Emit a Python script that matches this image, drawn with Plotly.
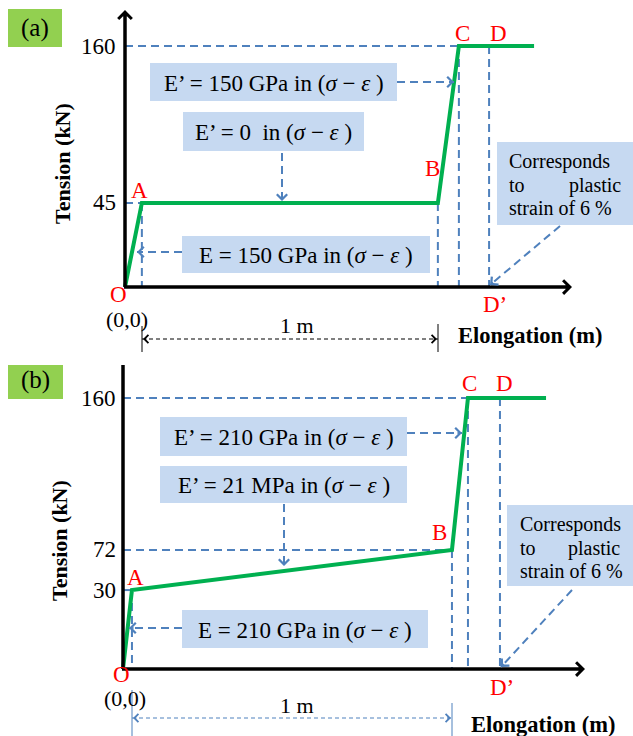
import numpy as np
import plotly.graph_objects as go

W, H = 633, 736

# ---------------- data ----------------
# schematic elongation positions of the characteristic points O, A, B, C, D
point_names = ["O", "A", "B", "C", "D"]
elong_a = [0.0, 0.057, 1.057, 1.128, 1.23]
tension_a = [0, 45, 45, 160, 160]
curve_end_a = 1.382
ticks_a = [45, 160]

elong_b = [0.0, 0.028, 1.028, 1.078, 1.178]
tension_b = [0, 30, 72, 160, 160]
curve_end_b = 1.322
ticks_b = [30, 72, 160]

box_texts_a = ["E’ = 150 GPa in (<i>σ</i> − <i>ε</i> )",
               "E’ = 0  in (<i>σ</i> − <i>ε</i> )",
               "E = 150 GPa in (<i>σ</i> − <i>ε</i> )"]
box_texts_b = ["E’ = 210 GPa in (<i>σ</i> − <i>ε</i> )",
               "E’ = 21 MPa in (<i>σ</i> − <i>ε</i> )",
               "E = 210 GPa in (<i>σ</i> − <i>ε</i> )"]

# ---------------- styling / geometry ----------------
GREEN = "#00B050"
BLUE = "#4F81BD"
BOXFILL = "#C6D9F1"
LABELFILL = "#92D050"
FONT = "Liberation Serif"
SPLIT = 365  # pixel row between the panels
FS = 23      # main text size

PANELS = {
    "a": dict(xref="x", yref="y", ox=125, oy=287, sx=296, sy=241 / 160, top=0, bottom=SPLIT,
              knots_t=[0, 45, 160], knots_y=[0, 55.8, 160]),
    "b": dict(xref="x2", yref="y2", ox=123, oy=669, sx=320, sy=271 / 160, top=SPLIT, bottom=H,
              knots_t=[0, 30, 72, 160], knots_y=[0, 46.6, 70.3, 160]),
}


def P(p, px, py):
    g = PANELS[p]
    return (px - g["ox"]) / g["sx"], (g["oy"] - py) / g["sy"]


def warp(p, t):
    g = PANELS[p]
    return np.interp(t, g["knots_t"], g["knots_y"])


shapes, anns = [], []


def line(p, x0, y0, x1, y1, color, width, dash=None, layer="above"):
    g = PANELS[p]
    ln = dict(color=color, width=width)
    if dash:
        ln["dash"] = dash
    shapes.append(dict(type="line", xref=g["xref"], yref=g["yref"], x0=x0, y0=y0, x1=x1, y1=y1,
                       line=ln, layer=layer))


def pline(p, px0, py0, px1, py1, color, width, dash=None, layer="above"):
    x0, y0 = P(p, px0, py0)
    x1, y1 = P(p, px1, py1)
    line(p, x0, y0, x1, y1, color, width, dash, layer)


def rect(p, px0, py0, px1, py1, fill):
    g = PANELS[p]
    x0, y0 = P(p, px0, py0)
    x1, y1 = P(p, px1, py1)
    shapes.append(dict(type="rect", xref=g["xref"], yref=g["yref"], x0=x0, y0=y0, x1=x1, y1=y1,
                       fillcolor=fill, line=dict(width=0), layer="below"))


def text(p, px, py, s, size=FS, color="black", xanchor="center", angle=0):
    g = PANELS[p]
    x, y = P(p, px, py)
    anns.append(dict(x=x, y=y, xref=g["xref"], yref=g["yref"], text=s, showarrow=False,
                     xanchor=xanchor, yanchor="middle", textangle=angle,
                     font=dict(family=FONT, size=size, color=color)))


def head(p, hx, hy, dx, dy, color, width, size, L=6):
    g = PANELS[p]
    x, y = P(p, hx, hy)
    n = (dx ** 2 + dy ** 2) ** 0.5
    dx, dy = dx / n, dy / n
    anns.append(dict(x=x, y=y, xref=g["xref"], yref=g["yref"], text="", showarrow=True,
                     ax=-dx * L, ay=-dy * L, arrowhead=4, arrowcolor=color, arrowwidth=width,
                     arrowsize=size, standoff=0))


def dashed_arrow(p, tx, ty, hx, hy):
    pline(p, tx, ty, hx, hy, BLUE, 2, "8px,5px")
    head(p, hx, hy, hx - tx, hy - ty, BLUE, 2, 1.0)


fig = go.Figure()

for p, el, te, end, ticks in [("a", elong_a, tension_a, curve_end_a, ticks_a),
                              ("b", elong_b, tension_b, curve_end_b, ticks_b)]:
    g = PANELS[p]
    xs = el[:4] + [end]
    ys = list(warp(p, te[:4] + [te[3]]))
    fig.add_trace(go.Scatter(x=xs, y=ys, mode="lines", line=dict(color=GREEN, width=4),
                             hoverinfo="skip", showlegend=False,
                             xaxis=g["xref"], yaxis=g["yref"]))
    yd = warp(p, te)
    # horizontal guides at each level up to the right-most point of that level
    for lvl in sorted(set(te[1:])):
        xr = max(el[i] for i in range(1, 4) if te[i] == lvl)
        line(p, 0, warp(p, lvl), xr, warp(p, lvl), BLUE, 2, "8px,5px", "below")
    # vertical guides from A, B, C, D
    for i in range(1, 5):
        line(p, el[i], yd[i], el[i], 0, BLUE, 2, "8px,5px", "below")
    # tick labels
    for t in ticks:
        x, _ = P(p, 118, 0)
        anns.append(dict(x=x, y=warp(p, t), xref=g["xref"], yref=g["yref"], text=str(t),
                         showarrow=False, xanchor="right", yanchor="middle",
                         font=dict(family=FONT, size=FS, color="black")))

# ---- axes (drawn arrows) ----
for p, tipx, tipy in [("a", 572, 10), ("b", 585, 358)]:
    g = PANELS[p]
    pline(p, g["ox"], g["oy"], g["ox"], tipy + 2, "black", 3.5)
    pline(p, g["ox"] - 1, g["oy"], tipx - 2, g["oy"], "black", 3.5)
    head(p, g["ox"], tipy, 0, -1, "black", 3.5, 0.75, L=8)
    head(p, tipx, g["oy"], 1, 0, "black", 3.5, 0.75, L=8)

# ---- panel (a) decorations ----
rect("a", 8, 9, 62, 47, LABELFILL)
text("a", 35, 28, "(a)", 25)
text("a", 62, 164, "<b>Tension (kN)</b>", 22, angle=-90)
text("a", 530, 335, "<b>Elongation (m)</b>", 22.5)
text("a", 127, 319, "(0,0)", 22)
text("a", 297, 325, "1 m", 22)
for nm, (px, py) in zip(["O", "A", "B", "C", "D", "D’"],
                        [(118, 294), (139, 190), (432, 168), (462, 33), (498, 33), (495, 304)]):
    text("a", px, py, nm, FS, "red")

boxes_a = [(150, 63, 397, 101), (183, 112, 364, 151), (182, 236, 430, 273)]
for (x0, y0, x1, y1), s in zip(boxes_a, box_texts_a):
    rect("a", x0, y0, x1, y1, BOXFILL)
    text("a", (x0 + x1) / 2, (y0 + y1) / 2 + 1, s, FS)
rect("a", 497, 142, 633, 225, BOXFILL)
text("a", 507, 161, "Corresponds", 20, xanchor="left")
text("a", 507, 185, "to", 20, xanchor="left")
text("a", 623, 185, "plastic", 20, xanchor="right")
text("a", 507, 208, "strain of 6 %", 20, xanchor="left")

dashed_arrow("a", 397, 82, 454, 82)
dashed_arrow("a", 282, 153, 282, 201)
dashed_arrow("a", 182, 252, 137, 252)
dashed_arrow("a", 560, 226, 490, 285)

# dimension line (a)
pline("a", 142, 339, 438, 339, "black", 1, "4px,3px")
head("a", 143, 339, -1, 0, "black", 1, 1.6, L=5)
head("a", 437, 339, 1, 0, "black", 1, 1.6, L=5)
pline("a", 142, 326, 142, 352, "black", 1)
pline("a", 438, 324, 438, 352, "black", 1)

# ---- panel (b) decorations ----
rect("b", 8, 361, 63, 399, LABELFILL)
text("b", 35, 380, "(b)", 25)
text("b", 59, 541, "<b>Tension (kN)</b>", 22, angle=-90)
text("b", 543, 724, "<b>Elongation (m)</b>", 22.5)
text("b", 125, 698, "(0,0)", 22)
text("b", 297, 705, "1 m", 22)
for nm, (px, py) in zip(["O", "A", "B", "C", "D", "D’"],
                        [(121, 674), (135, 577), (439, 532), (469, 383), (504, 383), (502, 687)]):
    text("b", px, py, nm, FS, "red")

boxes_b = [(160, 417, 407, 456), (160, 466, 407, 503), (182, 610, 428, 648)]
for (x0, y0, x1, y1), s in zip(boxes_b, box_texts_b):
    rect("b", x0, y0, x1, y1, BOXFILL)
    text("b", (x0 + x1) / 2, (y0 + y1) / 2 + 1, s, FS)
rect("b", 507, 505, 633, 586, BOXFILL)
text("b", 518, 524, "Corresponds", 20, xanchor="left")
text("b", 518, 548, "to", 20, xanchor="left")
text("b", 622, 548, "plastic", 20, xanchor="right")
text("b", 518, 571, "strain of 6 %", 20, xanchor="left")

dashed_arrow("b", 407, 433, 462, 433)
dashed_arrow("b", 284, 504, 284, 566)
dashed_arrow("b", 182, 628, 129, 628)
dashed_arrow("b", 572, 590, 501, 667)

# dimension line (b)
pline("b", 132, 718, 452, 718, BLUE, 1, "4px,3px")
head("b", 133, 718, -1, 0, BLUE, 1, 1.6, L=5)
head("b", 451, 718, 1, 0, BLUE, 1, 1.6, L=5)
pline("b", 132, 690, 132, 736, BLUE, 1)
pline("b", 452, 703, 452, 736, BLUE, 1)

# ---- layout ----
dom_split = 1 - SPLIT / H
layout_axes = {}
for p, xk, yk, ydom in [("a", "xaxis", "yaxis", [dom_split, 1]), ("b", "xaxis2", "yaxis2", [0, dom_split])]:
    g = PANELS[p]
    xl, yb = P(p, 0, g["bottom"])
    xr, yt = P(p, W, g["top"])
    layout_axes[xk] = dict(domain=[0, 1], range=[xl, xr], visible=False, fixedrange=True,
                           anchor=g["yref"])
    layout_axes[yk] = dict(domain=ydom, range=[yb, yt], visible=False, fixedrange=True,
                           anchor=g["xref"])

fig.update_layout(width=W, height=H, autosize=False, margin=dict(l=0, r=0, t=0, b=0),
                  paper_bgcolor="white", plot_bgcolor="white", showlegend=False,
                  shapes=shapes, annotations=anns, **layout_axes)

fig.write_html("out.html", config={"displayModeBar": False})
